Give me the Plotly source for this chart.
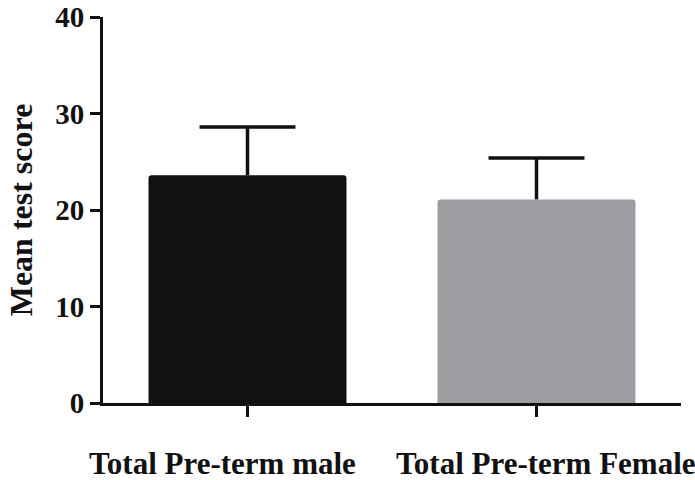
import plotly.graph_objects as go

# Group means and upper error (SD) for mean test score
categories = ["Total Pre-term male", "Total Pre-term Female"]
means = [23.6, 21.1]
errors = [5.0, 4.3]
bar_colors = ["#111111", "#9d9ca1"]
y_ticks = [0, 10, 20, 30, 40]

font_family = "Liberation Serif, Times New Roman, serif"
ink = "#111111"
bar_width = 0.685
cap_half = 0.166
label_shift = [-25, 9]

positions = list(range(len(categories)))
tops = [m + e for m, e in zip(means, errors)]

fig = go.Figure()

fig.add_trace(
    go.Bar(
        x=positions,
        y=means,
        width=bar_width,
        marker=dict(color=bar_colors, line=dict(width=0), cornerradius=3),
        hoverinfo="y",
    )
)

# Upper whisker only: a point at mean+SD with a downward error to the mean
# (no cap), plus a horizontal error segment forming the cap at the top.
fig.add_trace(
    go.Scatter(
        x=positions,
        y=tops,
        mode="markers",
        marker=dict(size=1, color=ink, opacity=0),
        error_y=dict(
            type="data",
            symmetric=False,
            array=[0] * len(errors),
            arrayminus=errors,
            color=ink,
            thickness=3.5,
            width=0,
        ),
        error_x=dict(
            type="data",
            symmetric=True,
            array=[cap_half] * len(errors),
            color=ink,
            thickness=3.5,
            width=0,
        ),
        hoverinfo="skip",
    )
)

for pos, name, dx in zip(positions, categories, label_shift):
    fig.add_annotation(
        x=pos,
        xref="x",
        y=0,
        yref="paper",
        yshift=-60,
        xshift=dx,
        yanchor="middle",
        text=name,
        showarrow=False,
        font=dict(size=31, family=font_family, weight="bold", color=ink),
    )

fig.update_layout(
    width=695,
    height=480,
    margin=dict(l=103, r=14, t=17, b=77, autoexpand=False),
    plot_bgcolor="white",
    paper_bgcolor="white",
    showlegend=False,
    font=dict(family=font_family, color=ink),
)

fig.update_xaxes(
    range=[-0.5, 1.5],
    automargin=False,
    tickvals=positions,
    ticktext=categories,
    showticklabels=False,
    showline=True,
    linecolor=ink,
    linewidth=3,
    ticks="outside",
    ticklen=11,
    tickwidth=3,
    tickcolor=ink,
    showgrid=False,
    zeroline=False,
)

fig.update_yaxes(
    range=[0, 40],
    automargin=False,
    tickvals=y_ticks,
    showline=True,
    linecolor=ink,
    linewidth=3,
    ticks="outside",
    ticklen=10,
    tickwidth=3,
    tickcolor=ink,
    tickfont=dict(size=29, family=font_family, weight="bold"),
    showgrid=False,
    zeroline=False,
    title=dict(
        text="Mean test score",
        font=dict(size=32, family=font_family, weight="bold"),
        standoff=14,
    ),
)

fig.write_html("out.html")
